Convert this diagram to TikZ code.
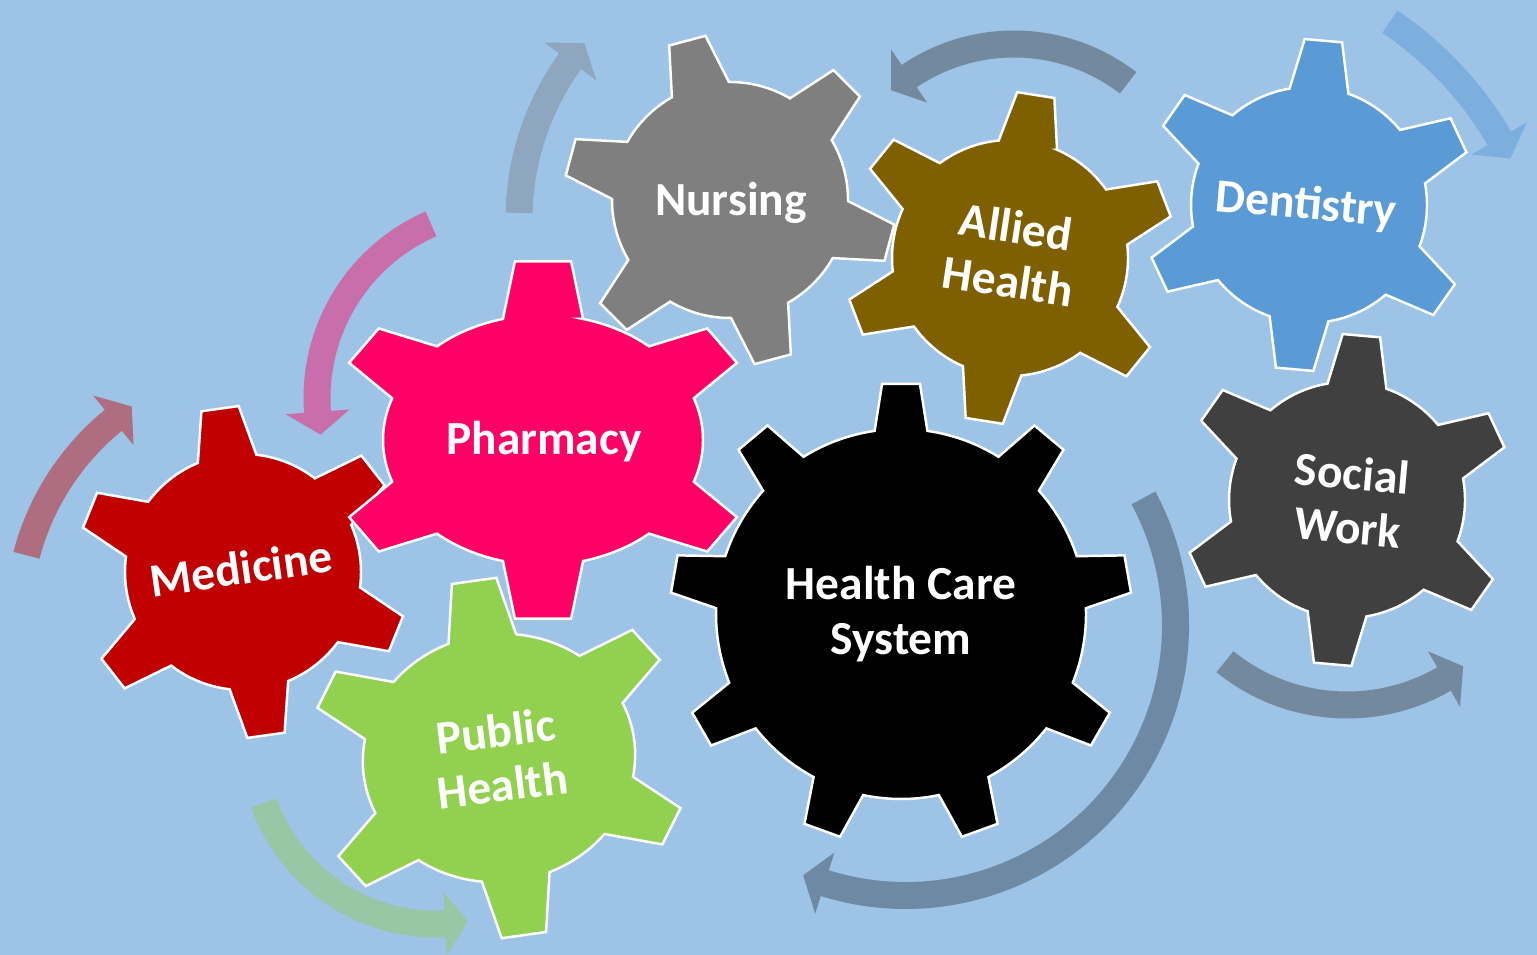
\documentclass[tikz,border=0pt]{standalone}
\usepackage{fontspec}
\setmainfont{Carlito}
\usetikzlibrary{calc}

\definecolor{bgblue}{HTML}{9DC3E6}
\definecolor{medred}{HTML}{C00000}
\definecolor{pharmpink}{HTML}{FF0066}
\definecolor{nursgray}{HTML}{7F7F7F}
\definecolor{alliedbrown}{HTML}{7F6000}
\definecolor{dentblue}{HTML}{5B9BD5}
\definecolor{socialgray}{HTML}{404040}
\definecolor{publicgreen}{HTML}{92D050}
\definecolor{arrowmauve}{HTML}{AE6E80}
\definecolor{arrowpink}{HTML}{C86EAA}
\definecolor{arrowsteel}{HTML}{8EA6BE}
\definecolor{arrowslate}{HTML}{73899E}
\definecolor{arrowdark}{HTML}{6E89A3}
\definecolor{arrowsky}{HTML}{7DAFDE}
\definecolor{arrowsage}{HTML}{97C7A4}

% root radius, half angle at root, half angle at tip
\newcommand{\geardims}[3]{\def\rootr{#1}\def\baseang{#2}\def\tipang{#3}}
% centre, rotation, xscale, colour, teeth list macro (angle/gap/tip radius, first one at 90)
\newcommand{\gear}[5]{%
  \filldraw[gearline,fill=#4,shift={#1},rotate=#2,xscale=#3]
    ({90-\baseang}:\rootr)
    \foreach \a/\g/\t in #5{
      -- ({\a-\tipang}:\t) -- ({\a+\tipang}:\t) -- ({\a+\baseang}:\rootr)
      arc[start angle={\a+\baseang},delta angle={\g-2*\baseang},radius=\rootr]
    } -- cycle;}
\def\sixteeth{90/60/166,150/60/166,210/60/166,270/60/166,330/60/166,30/60/166}
\def\pharmteeth{90/56/180,146/68/170,214/56/170,270/56/180,326/68/170,34/56/170}
\def\publicteeth{90/58/180,148/64/174,212/58/174,270/58/180,328/64/174,32/58/174}
\def\systemteeth{90/40/231,130/40/231,170/40/231,210/40/231,250/40/231,290/40/231,330/40/231,10/40/231,50/40/231}
% centre, radius, start angle, angle at the arrow head, colour
\newcommand{\cyclearrow}[5]{%
  \pgfmathsetmacro\dir{(#4>#3) ? 1 : -1}
  \pgfmathsetmacro\tipa{#4+\dir*1318/#2}
  \pgfmathsetmacro\ro{#2+13.5}
  \pgfmathsetmacro\ri{#2-13.5}
  \pgfmathsetmacro\ho{#2+32}
  \pgfmathsetmacro\hi{#2-32}
  \fill[#5,shift={#1}]
    (#3:\ro) arc[start angle=#3,end angle=#4,radius=\ro]
    -- (#4:\ho) -- (\tipa:#2) -- (#4:\hi) -- (#4:\ri)
    arc[start angle=#4,end angle=#3,radius=\ri] -- cycle;}

\begin{document}
\begin{tikzpicture}[x=0.01cm,y=0.01cm,
    gearline/.style={draw=white,line width=0.7pt},
    geartext/.style={text=white,align=center,inner sep=0pt,
      font=\bfseries\fontsize{13.5}{15.5}\selectfont}]
  \useasboundingbox (0,0) rectangle (1537,955);
  \fill[bgblue] (0,0) rectangle (1537,955);

  % arrows round the gears
  \cyclearrow{(277,334)}{259}{165.3}{129.2}{arrowmauve}
  \cyclearrow{(507,557)}{190}{113.6}{184.2}{arrowpink}
  \cyclearrow{(788,736)}{269}{178.7}{144.1}{arrowsteel}
  \cyclearrow{(1014,724)}{187}{52.4}{124.1}{arrowslate}
  \cyclearrow{(1188,634)}{361}{56}{30.4}{arrowsky}
  \cyclearrow{(1347,444)}{194}{231}{300}{arrowslate}
  \cyclearrow{(905.5,329.5)}{270}{28.2}{-107.4}{arrowdark}
  \cyclearrow{(436,214)}{183}{199.8}{272.8}{arrowsage}

  % gears
  \geardims{118}{14.5}{6.5}
  \gear{(243,383)}{8}{1}{medred}{\sixteeth}
  \geardims{125}{14.5}{7}
  \gear{(543,515)}{0}{1.28}{pharmpink}{\pharmteeth}
  \geardims{124}{14.5}{6.5}
  \gear{(499,197)}{8}{1.1}{publicgreen}{\publicteeth}
  \geardims{118}{14.5}{6.5}
  \gear{(1010,697)}{-9}{1}{alliedbrown}{\sixteeth}
  \gear{(730,755)}{15}{1}{nursgray}{\sixteeth}
  \geardims{185}{8.2}{4.7}
  \gear{(901,341)}{0}{1}{black}{\systemteeth}
  \geardims{118}{14.5}{6.5}
  \gear{(1309,750)}{-5}{1}{dentblue}{\sixteeth}
  \gear{(1347,455)}{-5}{1}{socialgray}{\sixteeth}

  % labels
  \node[geartext,rotate=8] (medicine) at (241,387) {Medicine};
  \node[geartext] (pharmacy) at (544,513) {Pharmacy};
  \node[geartext,rotate=7] (public) at (499,197) {Public\\Health};
  \node[geartext,rotate=-8.5] (allied) at (1012,701) {Allied\\Health};
  \node[geartext] (nursing) at (731,752) {Nursing};
  \node[geartext] (system) at (901,341) {Health Care\\System};
  \node[geartext,rotate=-5] (dentistry) at (1306,749) {Dentistry};
  \node[geartext,rotate=-5] (social) at (1350,455) {Social\\Work};
\end{tikzpicture}
\end{document}
